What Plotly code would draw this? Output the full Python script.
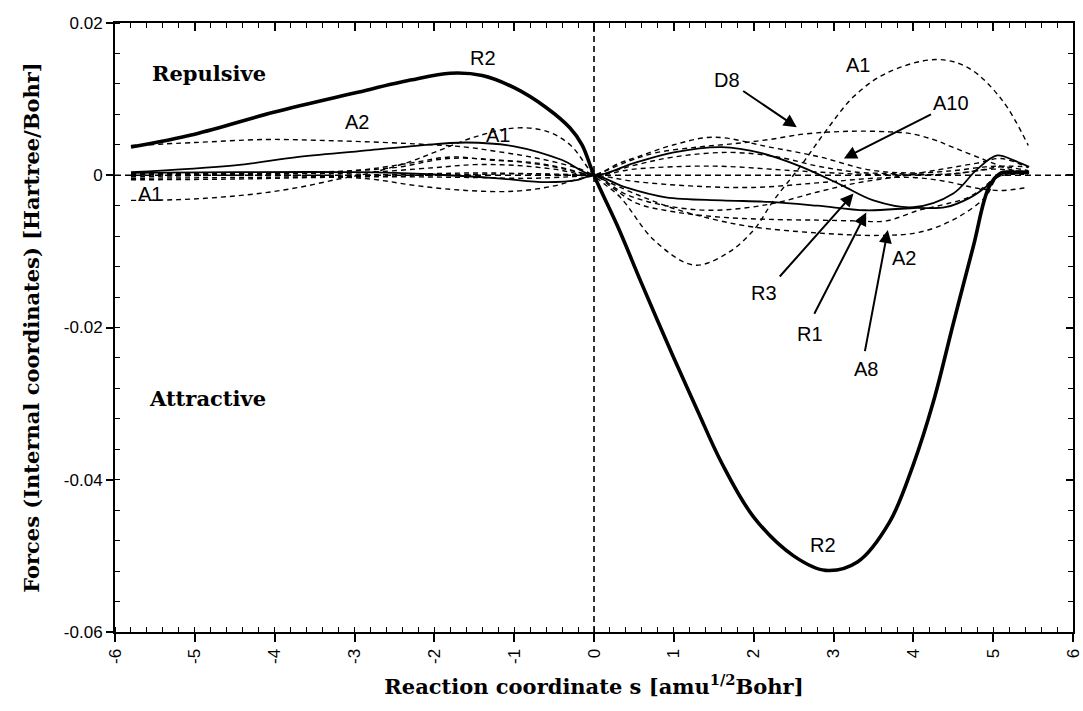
import plotly.graph_objects as go

# ---------------- data ----------------
r2_x = [-5.8, -5.0, -4.0, -3.0, -2.3, -1.8, -1.4, -1.0, -0.6, -0.3, -0.15, 0.0,
        0.3, 0.6, 1.0, 1.3, 1.6, 2.0, 2.5, 2.9, 3.3, 3.7, 4.0, 4.25, 4.5, 4.75, 4.95, 5.1, 5.25, 5.45]
r2_y = [0.0037, 0.0054, 0.0083, 0.0108, 0.0125, 0.0134, 0.0131, 0.0115, 0.0089, 0.0062, 0.0040, 0.0,
        -0.0068, -0.0143, -0.0240, -0.0310, -0.0378, -0.0449, -0.0500, -0.0519, -0.0508, -0.0456,
        -0.0380, -0.0298, -0.0195, -0.0094, -0.0015, 0.0003, 0.0004, 0.0004]

r3_x = [-5.8, -4.5, -3.7, -2.8, -2.2, -1.6, -1.0, -0.4, 0.0, 0.5, 1.0, 1.6, 2.1, 2.6, 3.1,
        3.5, 4.0, 4.5, 4.8, 5.05, 5.25, 5.45]
r3_y = [0.0004, 0.0013, 0.0024, 0.0033, 0.0039, 0.0043, 0.0038, 0.0020, 0.0, 0.0016, 0.0030,
        0.0037, 0.0029, 0.0011, -0.0013, -0.0033, -0.0042, -0.0024, 0.0008, 0.0026, 0.0020, 0.0011]

r1_x = [-5.8, -4.5, -3.0, -2.0, -1.2, -0.6, -0.2, 0.0, 0.4, 0.9, 1.6, 2.2, 2.8, 3.4, 4.0,
        4.4, 4.7, 4.9, 5.05, 5.15, 5.45]
r1_y = [0.0003, 0.0004, 0.0004, 0.0001, -0.0004, -0.0009, -0.0006, 0.0, -0.0016, -0.0029,
        -0.0033, -0.0035, -0.0040, -0.0046, -0.0043, -0.0042, -0.0030, -0.0016, -0.0002, 0.0003, 0.0003]

a1_x = [-5.8, -5.2, -4.7, -4.2, -3.7, -3.2, -2.8, -2.3, -2.0, -1.5, -1.0, -0.6, -0.3, 0.0,
        0.33, 0.75, 1.25, 1.66, 2.0, 2.25, 2.58, 2.91, 3.25, 3.66, 4.28, 4.69, 5.11, 5.44]
a1_y = [-0.0033, -0.0032, -0.0029, -0.0024, -0.0016, -0.0005, 0.0003, 0.0018, 0.0030, 0.0050,
        0.0062, 0.0058, 0.0040, 0.0, -0.0029, -0.0085, -0.0118, -0.0103, -0.0072, -0.0033,
        0.0011, 0.0059, 0.0103, 0.0134, 0.0152, 0.0141, 0.0099, 0.0039]

a2_x = [-5.8, -5.0, -4.1, -3.5, -2.86, -2.2, -1.61, -1.2, -0.79, -0.4, -0.17, 0.0,
        0.33, 0.95, 1.5, 2.0, 2.83, 3.58, 4.07, 4.49, 4.9, 5.05, 5.2, 5.44]
a2_y = [0.0039, 0.0043, 0.0047, 0.0046, 0.0044, 0.0041, 0.0037, 0.0031, 0.0024, 0.0015, 0.0008, 0.0,
        -0.0016, -0.0042, -0.0058, -0.0068, -0.0076, -0.0079, -0.0075, -0.0059, -0.0029, -0.0003,
        0.0002, 0.0002]

d8_x = [-5.8, -4.5, -3.5, -2.8, -2.2, -1.6, -1.0, -0.5, -0.2, 0.0, 0.4, 0.75, 1.3, 1.8, 2.2,
        2.62, 3.0, 3.33, 3.7, 3.95, 4.25, 4.49, 4.9, 5.2, 5.44]
d8_y = [-0.0002, 0.0, -0.0001, -0.0005, -0.0014, -0.0020, -0.0021, -0.0014, -0.0005, 0.0,
        0.0017, 0.0029, 0.0037, 0.0042, 0.0047, 0.0054, 0.0057, 0.0058, 0.0057, 0.0055, 0.0047,
        0.0037, 0.0020, 0.0008, 0.0002]

a10_x = [-5.8, -4.5, -3.5, -2.5, -1.83, -1.2, -0.6, -0.2, 0.0, 0.3, 0.54, 1.0, 1.5, 2.2,
         2.83, 3.45, 4.0, 4.5, 4.9, 5.2, 5.44]
a10_y = [0.0001, 0.0002, 0.0004, 0.0010, 0.0022, 0.0020, 0.0013, 0.0004, 0.0, 0.0015, 0.0024,
         0.0040, 0.0050, 0.0037, 0.0024, 0.0007, 0.0003, 0.0006, 0.0011, 0.0012, 0.0011]

d5_x = [-5.8, -4.0, -3.0, -2.0, -1.5, -1.0, -0.5, 0.0, 0.5, 1.0, 1.7, 2.3, 2.8, 3.3, 3.8,
        4.4, 4.8, 5.1, 5.44]
d5_y = [0.0002, 0.0003, 0.0003, 0.0010, 0.0014, 0.0013, 0.0008, 0.0, 0.0013, 0.0024, 0.0030,
        0.0024, 0.0012, 0.0004, 0.0002, 0.0001, 0.0006, 0.0011, 0.0006]

a8_x = [-5.8, -4.5, -3.5, -2.5, -1.5, -0.8, -0.3, 0.0, 0.25, 0.54, 1.0, 1.58, 2.2, 2.83,
        3.3, 3.66, 4.07, 4.4, 4.69, 4.9, 5.03, 5.2, 5.44]
a8_y = [-0.0004, -0.0003, -0.0002, -0.0001, 0.0001, 0.0002, 0.0001, 0.0, -0.0018, -0.0037,
        -0.0048, -0.0055, -0.0058, -0.0059, -0.0060, -0.0060, -0.0046, -0.0038, -0.0029,
        -0.0014, -0.0003, 0.0001, 0.0001]

d7_x = [-5.8, -4.5, -3.5, -2.5, -1.5, -0.8, -0.3, 0.0, 0.5, 1.2, 2.0, 2.8, 3.5, 4.0, 4.4,
        4.8, 5.1, 5.44]
d7_y = [-0.0006, -0.0005, -0.0003, -0.0002, -0.0003, -0.0004, -0.0002, 0.0, -0.0008, -0.0014,
        -0.0016, -0.0010, -0.0004, -0.0003, -0.0008, -0.0017, -0.0020, -0.0016]

d9_x = [-5.8, -4.5, -3.5, -2.5, -1.5, -0.8, -0.3, 0.0, 0.4, 0.9, 1.5, 2.2, 2.8, 3.3, 3.8,
        4.3, 4.8, 5.1, 5.44]
d9_y = [0.0002, 0.0001, 0.0, 0.0001, 0.0003, 0.0002, 0.0, 0.0, -0.0025, -0.0040, -0.0046,
        -0.0038, -0.0022, -0.0010, -0.0002, 0.0007, 0.0016, 0.0022, 0.0010]

d10_x = [-5.8, -4.0, -3.0, -2.3, -1.8, -1.3, -0.8, -0.4, 0.0, 0.5, 1.5, 2.5, 3.5, 4.5, 5.0, 5.44]
d10_y = [0.0, 0.0002, 0.0006, 0.0016, 0.0024, 0.0020, 0.0017, 0.0010, 0.0, 0.0008, 0.0012,
         0.0006, 0.0001, 0.0002, 0.0008, 0.0004]

x_ticks = [-6, -5, -4, -3, -2, -1, 0, 1, 2, 3, 4, 5, 6]
x_ticktext = ["-6", "-5", "-4", "-3", "-2", "-1", "0", "1", "2", "3", "4", "5", "6"]
y_ticks = [-0.06, -0.04, -0.02, 0.0, 0.02]
y_ticktext = ["-0.06", "-0.04", "-0.02", "0", "0.02"]

# labels: (text, x, y)
plain_labels = [
    ("R2", -1.39, 0.0154), ("A2", -2.97, 0.0070), ("A1", -1.20, 0.0053),
    ("A1", -5.56, -0.0024), ("R2", 2.87, -0.0486), ("A1", 3.31, 0.0145),
    ("D8", 1.66, 0.0125), ("A10", 4.47, 0.0095), ("R3", 2.13, -0.0155),
    ("R1", 2.70, -0.0208), ("A8", 3.41, -0.0254), ("A2", 3.88, -0.0109),
]
# arrows: (tail_x, tail_y, head_x, head_y)
arrows = [
    (1.85, 0.0112, 2.54, 0.0063),
    (4.24, 0.0081, 3.13, 0.0022),
    (2.31, -0.0135, 3.25, -0.0024),
    (2.75, -0.0184, 3.41, -0.0049),
    (3.39, -0.0233, 3.68, -0.0072),
]

# ---------------- figure ----------------
fig = go.Figure()
DASH = "5px,4px"

for xs, ys in [(a1_x, a1_y), (a2_x, a2_y), (d8_x, d8_y), (a10_x, a10_y), (d5_x, d5_y),
               (a8_x, a8_y), (d7_x, d7_y), (d9_x, d9_y), (d10_x, d10_y)]:
    fig.add_trace(go.Scatter(x=xs, y=ys, mode="lines",
                             line=dict(color="black", width=1.4, dash=DASH, shape="spline", smoothing=1.0),
                             showlegend=False, hoverinfo="skip"))

for xs, ys in [(r3_x, r3_y), (r1_x, r1_y)]:
    fig.add_trace(go.Scatter(x=xs, y=ys, mode="lines",
                             line=dict(color="black", width=1.8, shape="spline", smoothing=1.0),
                             showlegend=False, hoverinfo="skip"))

fig.add_trace(go.Scatter(x=r2_x, y=r2_y, mode="lines",
                         line=dict(color="black", width=3.6, shape="spline", smoothing=1.0),
                         showlegend=False, hoverinfo="skip"))

# dummy trace for mirrored top/right axes
fig.add_trace(go.Scatter(x=[None], y=[None], xaxis="x2", yaxis="y2", showlegend=False))

# reference dashed lines
fig.add_shape(type="line", x0=-6, x1=6, y0=0, y1=0, xref="x", yref="y",
              line=dict(color="black", width=1.6, dash="6px,4px"), layer="below")
fig.add_shape(type="line", x0=0, x1=0, y0=-0.06, y1=0.02, xref="x", yref="y",
              line=dict(color="black", width=1.6, dash="6px,4px"), layer="below")

lab_font = dict(family="Liberation Sans, Arial, sans-serif", size=20, color="black")
for t, x, y in plain_labels:
    fig.add_annotation(x=x, y=y, text=t, showarrow=False, font=lab_font, xref="x", yref="y")

for tx, ty, hx, hy in arrows:
    fig.add_annotation(x=hx, y=hy, ax=tx, ay=ty, xref="x", yref="y", axref="x", ayref="y",
                       text="", showarrow=True, arrowhead=2, arrowsize=1.3, arrowwidth=2,
                       arrowcolor="black")

serif_bold = dict(family="DejaVu Serif, serif", size=21, color="black")
fig.add_annotation(x=-4.82, y=0.0134, text="<b>Repulsive</b>", showarrow=False, font=serif_bold)
fig.add_annotation(x=-4.84, y=-0.0293, text="<b>Attractive</b>", showarrow=False, font=serif_bold)

tick_font = dict(family="Liberation Sans, Arial, sans-serif", size=17, color="black")
title_font = dict(family="DejaVu Serif, serif", size=21, color="black")

fig.update_layout(
    width=1083, height=711,
    margin=dict(l=115, r=10, t=23, b=79, autoexpand=False),
    paper_bgcolor="white", plot_bgcolor="white",
    showlegend=False,
    xaxis=dict(range=[-6, 6], tickvals=x_ticks, ticktext=x_ticktext, tickangle=-90,
               ticks="outside", ticklen=8, tickwidth=1.5, tickcolor="black",
               ticklabeloverflow="allow", automargin=False,
               minor=dict(dtick=0.2, ticks="inside", ticklen=5, tickwidth=1.2, tickcolor="black"),
               showline=True, linecolor="black", linewidth=2, showgrid=False, zeroline=False,
               tickfont=tick_font,
               title=dict(text="<b>Reaction coordinate s [amu<sup>1/2</sup>Bohr]</b>", font=title_font,
                          standoff=16)),
    yaxis=dict(range=[-0.06, 0.02], tickvals=y_ticks, ticktext=y_ticktext,
               ticks="outside", ticklen=7, tickwidth=1.5, tickcolor="black", automargin=False,
               minor=dict(dtick=0.004, ticks="inside", ticklen=5, tickwidth=1.2, tickcolor="black"),
               showline=True, linecolor="black", linewidth=2, showgrid=False, zeroline=False,
               tickfont=tick_font,
               title=dict(text="<b>Forces (Internal coordinates) [Hartree/Bohr]</b>", font=title_font,
                          standoff=18)),
    xaxis2=dict(range=[-6, 6], overlaying="x", side="top", tickvals=x_ticks, showticklabels=False,
                ticks="inside", ticklen=8, tickwidth=1.5, tickcolor="black", automargin=False,
                minor=dict(dtick=0.2, ticks="inside", ticklen=5, tickwidth=1.2, tickcolor="black"),
                showline=True, linecolor="black", linewidth=2, showgrid=False, zeroline=False),
    yaxis2=dict(range=[-0.06, 0.02], overlaying="y", side="right", tickvals=y_ticks, showticklabels=False,
                ticks="inside", ticklen=7, tickwidth=1.5, tickcolor="black", automargin=False,
                minor=dict(dtick=0.004, ticks="inside", ticklen=5, tickwidth=1.2, tickcolor="black"),
                showline=True, linecolor="black", linewidth=2, showgrid=False, zeroline=False),
)

fig.write_html("out.html", config={"displayModeBar": False},
               post_script="document.body.style.margin='0';document.body.style.overflow='hidden';")
